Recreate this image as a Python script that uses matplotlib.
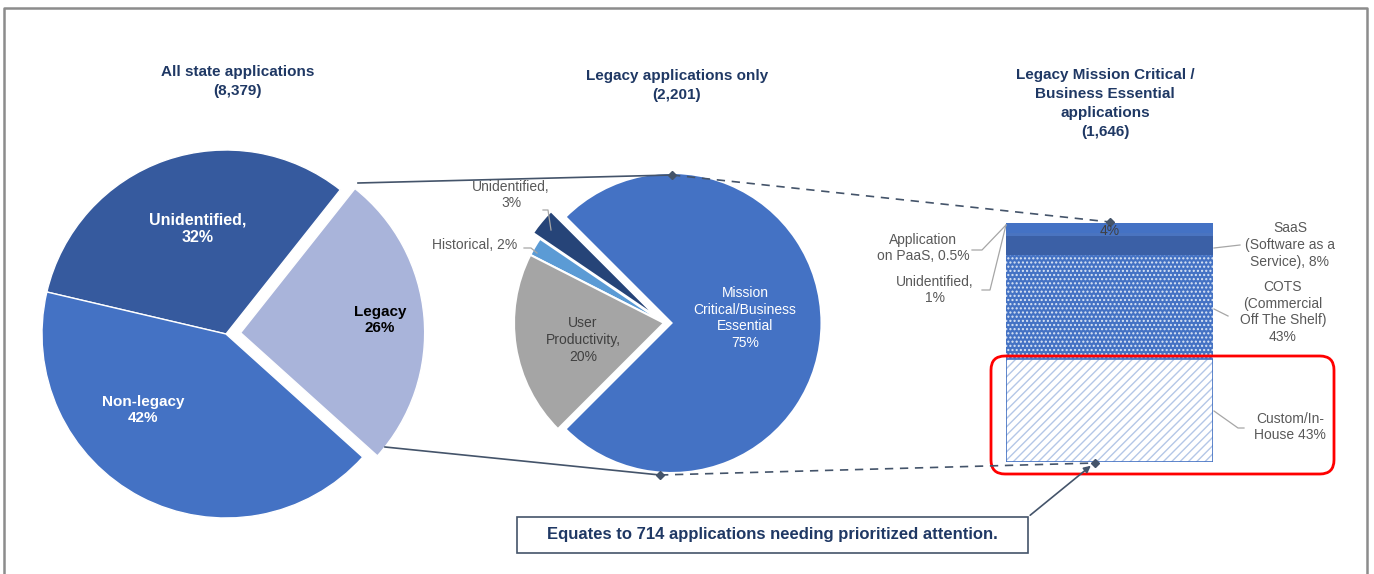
import matplotlib.pyplot as plt
from matplotlib.patches import FancyBboxPatch, Rectangle

W, H = 1374, 574

# data
all_labels = ["Legacy", "Unidentified", "Non-legacy"]
all_values = [26, 32, 42]
all_total = "8,379"

legacy_labels = ["Mission Critical/Business Essential", "Unidentified", "Historical", "User Productivity"]
legacy_values = [75, 3, 2, 20]
legacy_total = "2,201"

mc_labels = ["Custom/In-House", "COTS", "SaaS", "Unidentified", "Application on PaaS", "Other"]
mc_values = [43, 43, 8, 1, 0.5, 4]
mc_total = "1,646"
attention_count = 714

NAVY = "#1F3864"
LINE = "#44546A"
GRAY_TXT = "#595959"

plt.rcParams["font.family"] = ["Liberation Sans", "DejaVu Sans"]

fig = plt.figure(figsize=(W / 100, H / 100), dpi=100)


def place(cx, cy, r, lim):
    return fig.add_axes([(cx - r * lim) / W, 1 - (cy + r * lim) / H,
                         2 * r * lim / W, 2 * r * lim / H])


# pie 1: all applications
ax1 = place(226, 334, 184, 1.3)
ax1.pie(all_values, startangle=-42, counterclock=True,
        colors=["#A9B4DA", "#365A9E", "#4472C4"],
        explode=[0.08, 0, 0], radius=1,
        wedgeprops=dict(edgecolor="white", linewidth=1))
ax1.set_xlim(-1.3, 1.3)
ax1.set_ylim(-1.3, 1.3)
ax1.axis("off")

# pie 2: legacy only
ax2 = place(664, 323, 150, 1.3)
ax2.pie(legacy_values, startangle=-135, counterclock=True,
        colors=["#4472C4", "#264478", "#5B9BD5", "#A5A5A5"],
        explode=[0.05, 0.06, 0.0, 0.0], radius=1,
        wedgeprops=dict(edgecolor="white", linewidth=1.5))
ax2.set_xlim(-1.3, 1.3)
ax2.set_ylim(-1.3, 1.3)
ax2.axis("off")

# stacked bar: mission critical legacy
ax3 = fig.add_axes([1006 / W, 1 - 462 / H, 207 / W, 239 / H])
bar_colors = ["white", "#4472C4", "#3B60A6", "#4A74C0", "#4A74C0", "#4472C4"]
bottom = 0
for i, v in enumerate(mc_values):
    ax3.bar(0, v, bottom=bottom, width=1, color=bar_colors[i], linewidth=0)
    if mc_labels[i] == "Custom/In-House":
        ax3.bar(0, v, bottom=bottom, width=1, color="none", edgecolor="#B4C7E7",
                hatch="////", linewidth=0)
    if mc_labels[i] == "COTS":
        ax3.bar(0, v, bottom=bottom, width=1, color="none", edgecolor="#DCE6F5",
                hatch="....", linewidth=0)
    bottom += v
ax3.bar(0, mc_values[0], width=1, color="none", edgecolor="#4472C4", linewidth=1.2)
ax3.set_xlim(-0.5, 0.5)
ax3.set_ylim(0, sum(mc_values))
ax3.axis("off")

# overlay for annotations, in pixel coordinates
ax0 = fig.add_axes([0, 0, 1, 1], facecolor="none")
ax0.set_xlim(0, W)
ax0.set_ylim(H, 0)
ax0.axis("off")

# frame
ax0.plot([4, 4, 1367, 1367], [580, 8, 8, 580], color="#8C8C8C", lw=1.8)

# titles
tkw = dict(ha="center", va="top", fontsize=11, fontweight="bold", color=NAVY, linespacing=1.45)
ax0.text(238, 65, f"All state applications\n({all_total})", **tkw)
ax0.text(677, 69, f"Legacy applications only\n({legacy_total})", **tkw)
ax0.text(1105, 68, f"Legacy Mission Critical /\nBusiness Essential\napplications\n({mc_total})",
         **tkw)

# pie 1 labels
ax0.text(198, 229, f"{all_labels[1]},\n{all_values[1]}%", ha="center", va="center",
         color="white", fontsize=11.5, fontweight="bold", linespacing=1.25)
ax0.text(143, 410, f"{all_labels[2]}\n{all_values[2]}%", ha="center", va="center",
         color="white", fontsize=11, fontweight="bold", linespacing=1.25)
ax0.text(380, 320, f"{all_labels[0]}\n{all_values[0]}%", ha="center", va="center",
         color="black", fontsize=11, fontweight="bold", linespacing=1.25)

# pie 2 labels
ax0.text(745, 318, "Mission\nCritical/Business\nEssential\n75%", ha="center", va="center",
         color="white", fontsize=10, linespacing=1.25)
ax0.text(583, 340, "User\nProductivity,\n20%", ha="center", va="center",
         color="#404040", fontsize=10, linespacing=1.25)
ax0.text(475, 245, f"{legacy_labels[2]}, {legacy_values[2]}%", ha="center", va="center",
         color=GRAY_TXT, fontsize=10)
ax0.text(511, 195, f"{legacy_labels[1]},\n{legacy_values[1]}%", ha="center", va="center",
         color=GRAY_TXT, fontsize=10, linespacing=1.2)
ax0.plot([543, 548, 551], [210, 210, 230], color="#A6A6A6", lw=0.9)
ax0.plot([524, 531, 537], [248, 248, 253], color="#A6A6A6", lw=0.9)

# connectors between charts
ax0.plot([358, 672], [183, 175], color=LINE, lw=1.2)
ax0.plot([385, 660], [447, 475], color=LINE, lw=1.2)
ax0.plot([672, 1110], [175, 222], color=LINE, lw=1.2, ls=(0, (5, 4)))
ax0.plot([660, 1095], [475, 463], color=LINE, lw=1.2, ls=(0, (5, 4)))
ax0.plot([672, 660, 1110, 1095], [175, 475, 222, 463], ls="none", marker="D",
         ms=4.5, color=LINE)

# bar labels
ax0.text(1110, 231, "4%", ha="center", va="center", color="#404040", fontsize=10)
ax0.text(1290, 245, "SaaS\n(Software as a\nService), 8%", ha="center", va="center",
         color=GRAY_TXT, fontsize=10, linespacing=1.25)
ax0.text(1283, 312, "COTS\n(Commercial\nOff The Shelf)\n43%", ha="center", va="center",
         color=GRAY_TXT, fontsize=10, linespacing=1.25)
ax0.text(1290, 427, "Custom/In-\nHouse 43%", ha="center", va="center",
         color=GRAY_TXT, fontsize=10, linespacing=1.25)
ax0.text(923, 248, "Application\non PaaS, 0.5%", ha="center", va="center",
         color=GRAY_TXT, fontsize=10, linespacing=1.25)
ax0.text(935, 290, "Unidentified,\n1%", ha="center", va="center",
         color=GRAY_TXT, fontsize=10, linespacing=1.25)
lkw = dict(color="#A6A6A6", lw=0.9)
ax0.plot([972, 982, 1006], [250, 250, 225], **lkw)
ax0.plot([982, 990, 1006], [290, 290, 225], **lkw)
ax0.plot([1214, 1240], [248, 245], **lkw)
ax0.plot([1214, 1228], [309, 316], **lkw)
ax0.plot([1214, 1238, 1244], [411, 428, 428], **lkw)

# highlight box
ax0.add_patch(FancyBboxPatch((991, 356), 343, 118, boxstyle="round,pad=0,rounding_size=14",
                             fill=False, edgecolor="#FF0000", lw=2))

# callout
ax0.add_patch(Rectangle((517, 517), 511, 36, fill=False, edgecolor=LINE, lw=1.2))
ax0.text(772, 535, f"Equates to {attention_count} applications needing prioritized attention.",
         ha="center", va="center", color=NAVY, fontsize=12, fontweight="bold")
ax0.annotate("", xy=(1093, 464), xytext=(1028, 517),
             arrowprops=dict(arrowstyle="-|>", color=LINE, lw=1.2, mutation_scale=10))

fig.savefig("out.png", dpi=100)
